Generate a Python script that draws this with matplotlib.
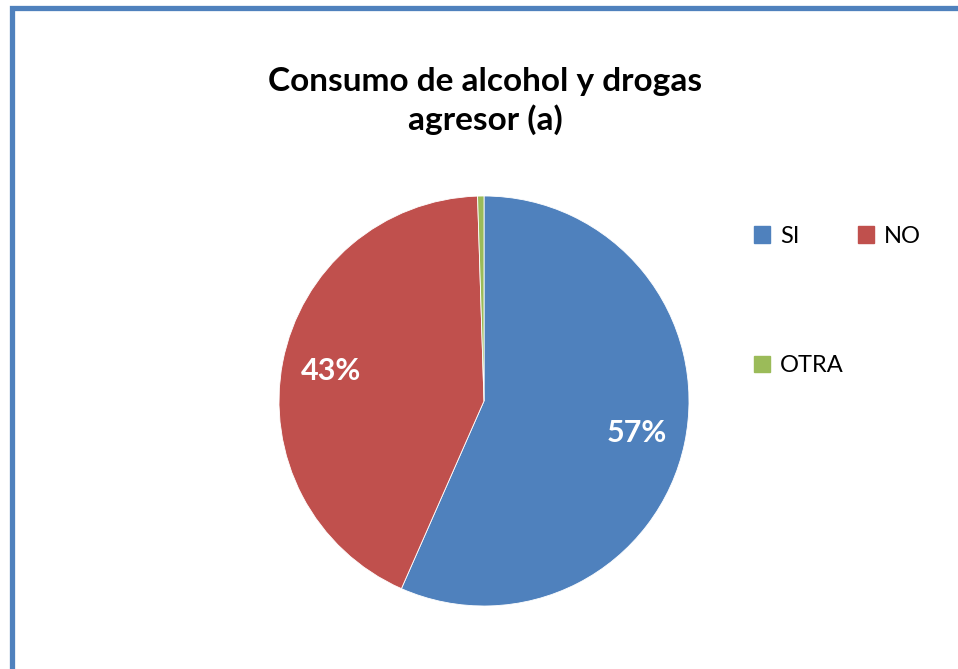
import matplotlib
matplotlib.use('Agg')
import matplotlib.pyplot as plt
from matplotlib.patches import Rectangle, Patch

plt.rcParams['font.family'] = ['Lato', 'DejaVu Sans']

categories = ['SI', 'NO', 'OTRA']
values = [56.6, 42.9, 0.5]
colors = ['#4F81BD', '#C0504D', '#9BBB59']
title = 'Consumo de alcohol y drogas\nagresor (a)'

W, H = 958, 669
fig = plt.figure(figsize=(W / 100, H / 100), dpi=100)

# pie area: center ~(484, 401) px, radius ~205 px
cx, cy, r = 484, 401, 205
ax = fig.add_axes([(cx - r) / W, (H - cy - r) / H, 2 * r / W, 2 * r / H])


def pct(p):
    return f'{p:.0f}%' if p >= 5 else ''


wedges, texts, autotexts = ax.pie(values, colors=colors, startangle=90, counterclock=False,
                                  autopct=pct, pctdistance=0.76,
                                  wedgeprops=dict(edgecolor='white', linewidth=0.6),
                                  textprops=dict(color='white', fontsize=22, fontweight='bold'))
ax.set_xlim(-1, 1)
ax.set_ylim(-1, 1)
ax.set_aspect('equal')

fig.text(485 / W, 1 - 101 / H, title, ha='center', va='center', fontsize=24,
         fontweight='bold', linespacing=1.3)

# legend: SI, NO on top row; OTRA below
handles = [Patch(color=c) for c in colors]
order = [0, 2, 1]
fig.legend([handles[i] for i in order], [categories[i] for i in order],
           ncol=2, loc='upper left', bbox_to_anchor=(742 / W, 1 - 214 / H),
           frameon=False, fontsize=17, handlelength=0.7, handleheight=0.7,
           handletextpad=0.4, columnspacing=0.6, labelspacing=4.6, borderpad=0)

# outer chart border
fig.patches.append(Rectangle((11.5 / W, -0.1), 2, (H - 7.5) / H + 0.1, transform=fig.transFigure,
                             fill=False, edgecolor='#4F81BD', linewidth=3.8))

fig.savefig('out.png', dpi=100)
